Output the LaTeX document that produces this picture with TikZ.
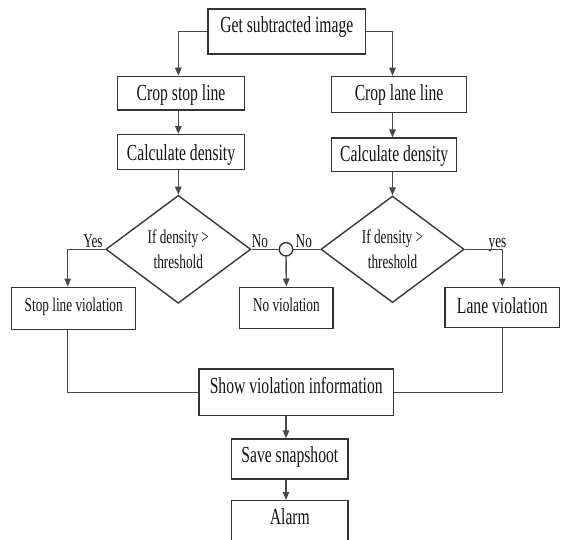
\documentclass[tikz,border=0pt]{standalone}
\usepackage{fontspec}
\setmainfont{Liberation Serif}[FakeStretch=0.68]
\usetikzlibrary{arrows.meta,shapes.geometric,calc}
\begin{document}
\begin{tikzpicture}[x=1pt,y=-1pt,
  ln/.style={line width=1.4pt, draw=black!72},
  arr/.style={ln,-{Triangle[length=8pt,width=6.5pt]}},
  bigtxt/.style={font=\fontsize{23}{26}\selectfont},
  smalltxt/.style={font=\fontsize{19.5}{24.4}\selectfont},
  box/.style={draw=black!80, line width=1.4pt, inner sep=0pt, anchor=north west, text=black!92, fill=white},
  dia/.style={draw=black!78, line width=1.4pt, diamond, aspect=1.34, inner sep=0pt, smalltxt, align=center, text=black!92},
  lbl/.style={smalltxt, anchor=base, inner sep=0pt, text=black!92},
]
\useasboundingbox (0,0) rectangle (561,539);
\clip (0,0) rectangle (561,539);

% boxes
\node[box,bigtxt,minimum width=157.7pt,text height=23.4pt,text depth=21.6pt] (get) at (207.3,8.3) {Get subtracted image};
\node[box,bigtxt,minimum width=127.3pt,text height=24.3pt,text depth=9.3pt] (cropL) at (116.7,75.7) {Crop stop line};
\node[box,bigtxt,minimum width=127.3pt,text height=26pt,text depth=9pt] (calcL) at (116.7,134) {Calculate density};
\node[box,bigtxt,minimum width=134.7pt,text height=24.3pt,text depth=11.7pt] (cropR) at (331,75.7) {Crop lane line};
\node[box,bigtxt,minimum width=125pt,text height=23.7pt,text depth=10pt] (calcR) at (331,137.3) {Calculate density};

\node[dia,minimum width=145pt,minimum height=108pt] (d1) at (178.3,249.3) {If density >\\threshold};
\node[dia,minimum width=143.3pt,minimum height=106.6pt] (d2) at (392.5,249.3) {If density >\\threshold};
\node[draw=black!78,line width=1.4pt,circle,minimum size=13.4pt,inner sep=0pt] (junc) at (286,249.3) {};

\node[box,smalltxt,minimum width=124pt,text height=24.5pt,text depth=18pt] (stop) at (11,286.5) {Stop line violation};
\node[box,smalltxt,minimum width=93.3pt,text height=24.2pt,text depth=17pt] (nov) at (239,286.5) {No violation};
\node[box,bigtxt,minimum width=114.7pt,text height=26.5pt,text depth=13.7pt] (lane) at (444.3,286.5) {Lane violation};

\node[box,bigtxt,minimum width=194.4pt,text height=24pt,text depth=22.7pt] (show) at (198.3,368.3) {Show violation information};
\node[box,bigtxt,minimum width=116.3pt,text height=23.4pt,text depth=16.6pt] (save) at (231,438.3) {Save snapshoot};
\node[box,bigtxt,minimum width=116.3pt,text height=24pt,text depth=30pt] (alarm) at (231,500) {Alarm};

% labels
\node[lbl] (yesL) at (93,247.5) {Yes};
\node[lbl] (noL) at (260,247.5) {No};
\node[lbl] (noR) at (303.8,247.5) {No};
\node[lbl] (yesR) at (497.5,247.5) {yes};

\coordinate (lx) at (67.7,0);

% connectors
\draw[arr] (get.west) -| (d1.north |- cropL.north);
\draw[arr] (d1.north |- cropL.south) -- (d1.north |- calcL.north);
\draw[arr] (d1.north |- calcL.south) -- (d1.north);
\draw[arr] (get.east) -| (d2.north |- cropR.north);
\draw[arr] (d2.north |- cropR.south) -- (d2.north |- calcR.north);
\draw[arr] (d2.north |- calcR.south) -- (d2.north);

\draw[arr] (d1.west) -| (lx |- stop.north);
\draw[ln] (d1.east) -- (junc.west);
\draw[ln] (junc.east) -- (d2.west);
\draw[arr] (junc.south) -- (nov.north);
\draw[arr] (d2.east) -| (lane.north);

\draw[ln] (lx |- stop.south) |- (show.west);
\draw[ln] (lane.south) |- (show.east);
\draw[arr] (junc |- show.south) -- (junc |- save.north);
\draw[arr] (junc |- save.south) -- (junc |- alarm.north);
\end{tikzpicture}
\end{document}
